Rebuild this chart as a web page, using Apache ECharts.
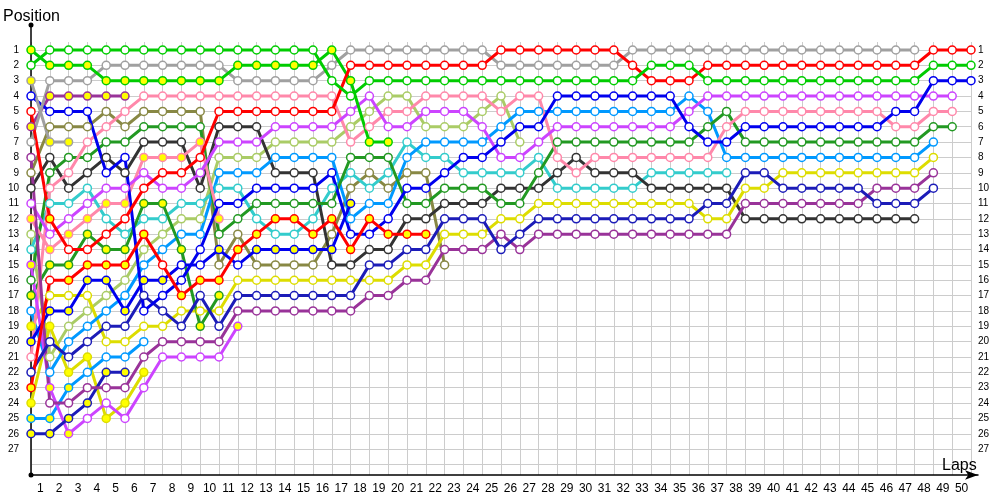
<!DOCTYPE html>
<html><head><meta charset="utf-8">
<script src="https://cdn.jsdelivr.net/npm/echarts@6/dist/echarts.min.js"></script>
<style>html,body{margin:0;padding:0;background:#fff}#c{width:1000px;height:500px}</style>
</head><body><div id="c"></div>
<script>
// Lap labels
const lapLabels = Array.from({length:50},(_,i)=>String(i+1));
// Positions per driver, index = lap (0 = start)
const G1  = [2,1,1,1,1,1,1,1,1,1,1,1,1,1,1,1,3,4,3,3,3,3,3,3,3,3,3,3,3,3,3,3,3,2,2,2,3,3,3,3,3,3,3,3,3,3,3,3,2,2,2];
const G2  = [1,2,2,2,3,3,3,3,3,3,3,2,2,2,2,2,1,3,7,7];
const GR1 = [7,3,3,3,2,2,2,2,2,2,2,3,3,3,3,3,2,1,1,1,1,1,1,1,1,2,2,2,2,2,2,2,1,1,1,1,1,1,1,1,1,1,1,1,1,1,1,1];
const GR2 = [3,7,7];
const P2  = [6,4,4,4,4,4];
const R1  = [5,12,14,14,13,12,10,9,9,8,5,5,5,5,5,5,5,2,2,2,2,2,2,2,2,1,1,1,1,1,1,1,2,3,3,3,2,2,2,2,2,2,2,2,2,2,2,2,1,1,1];
const R2  = [23,16,16,15,15,15,13,15,17,16,16,14,13,12,12,13,12,14,12,13,13,13];
const B1  = [4,5,5,5,9,8,18,17,16,14,11,11,10,10,10,10,9,13,13,12,10,10,9,8,8,7,6,6,4,4,4,4,4,4,4,6,7,7,6,6,6,6,6,6,6,6,5,5,3,3,3];
const B2  = [20,18,18,16,16,18,16,16,15,15,14,15,14,14,14,14,14,11];
const DB1 = [22,20,21,20,19,19,17,18,19,17,19,17,17,17,17,17,17,17,15,15,14,14,12,12,12,14,13,12,12,12,12,12,12,12,12,12,11,11,9,9,10,10,10,10,10,11,11,11,10];
const DB2 = [26,26,25,24,22,22];
const PU1 = [8,24,24,23,23,23,21,20,20,20,20,18,18,18,18,18,18,18,17,17,16,16,14,14,14,13,14,13,13,13,13,13,13,13,13,13,13,13,11,11,11,11,11,11,11,10,10,10,9];
const M1  = [11,13,12,11,10,10,9,10,10,9,7,7,7,6,6,6,6,5,4,6,6,5,5,5,6,8,8,7,6,6,6,6,6,6,6,5,4,4,4,4,4,4,4,4,4,4,4,4,4,4];
const M2  = [15,23,26,25,24,25,23,21,21,21,21,19];
const PK1 = [21,10,9,7,6,5,4,4,4,4,4,4,4,4,4,4,4,7,6,5,5,4,4,4,4,5,4,4,8,9,8,8,8,8,8,8,8,6,5,5,5,5,5,5,5,5,6,6,5,5];
const PK2 = [12,14,13,12,11,11,8,8,8,7,12];
const DG1 = [16,9,8,8,7,7,6,6,6,6,13,12,11,11,11,11,11,8,8,8,11,11,10,10,10,11,11,9,7,7,7,7,7,7,7,7,6,5,7,7,7,7,7,7,7,7,7,7,6,6];
const DG2 = [17,15,15,13,14,14,11,11,14,19,17];
const LB1 = [18,22,20,19,18,17,15,14,13,13,9,9,9,8,8,8,8,12,11,11,8,7,7,7,7,6,5,5,5,5,5,5,5,5,5,4,5,8,8,8,8,8,8,8,8,8,8,8,7];
const LB2 = [25,25,23,22,21,21,20];
const Y1  = [19,17,17,17,20,20,19,19,18,18,18,16,16,16,16,16,16,16,16,16,15,15,13,13,13,12,12,11,11,11,11,11,11,11,11,11,12,12,10,10,9,9,9,9,9,9,9,9,8];
const Y2  = [24,19,22,21,25,24,22];
const LG  = [13,21,19,18,17,16,14,13,12,12,8,8,8,7,7,7,7,6,5,4,4,6,6,6,5,4,7];
const CY  = [14,11,11,10,12,13,12,12,11,11,10,10,12,13,13,12,10,9,10,9,7,8,8,9,9,9,9,8,10,10,10,10,10,9,9,9,9,9];
const BK  = [10,8,10,9,8,9,7,7,7,10,6,6,6,9,9,9,15,15,14,14,12,12,11,11,11,10,10,10,9,8,9,9,9,10,10,10,10,10,12,12,12,12,12,12,12,12,12,12];
const OL  = [9,6,6,6,5,6,5,5,5,5,15,13,15,15,15,15,13,10,9,10,9,9,15];
// Laps drawn with a yellow marker
const range = (a,b)=>Array.from({length:b-a+1},(_,i)=>a+i);
const pitG2 = range(0,19), pitGR2 = [0,1,2], pitP2 = range(0,5), pitR1 = [1];
const pitR2 = [0,2,3,4,5,6,8,9,10,11,12,13,14,15,16,17,18,19,20,21];
const pitB2 = [0,1,2,3,4,5,6,7,10,12,13,14,15,16,17];
const pitDB2 = range(0,5), pitM2 = [0,1,2,11], pitPK2 = range(0,10), pitDG2 = range(0,10);
const pitLB2 = [0,1,2], pitY1 = [0], pitY2 = range(0,6);

const drivers = [
  [OL,'#888844',[]],[LG,'#aacc66',[]],[CY,'#33cccc',[]],[BK,'#333333',[]],
  [Y2,'#dddd00',pitY2],[Y1,'#dddd00',pitY1],[LB2,'#0099ff',pitLB2],[LB1,'#0099ff',[]],
  [DG2,'#229922',pitDG2],[DG1,'#229922',[]],[PK2,'#ff88aa',pitPK2],[PK1,'#ff88aa',[]],
  [M2,'#cc44ff',pitM2],[M1,'#cc44ff',[]],[DB2,'#1c1cb8',pitDB2],[PU1,'#993399',[]],[DB1,'#1c1cb8',[]],
  [P2,'#993399',pitP2],[B2,'#0000ee',pitB2],[B1,'#0000ee',[]],[R2,'#ff0000',pitR2],
  [GR2,'#a0a0a0',pitGR2],[GR1,'#a0a0a0',[]],[G2,'#00cc00',pitG2],[R1,'#ff0000',pitR1],[G1,'#00cc00',[]]
];

const series = drivers.map(([arr,col,pits])=>({
  type:'line', xAxisIndex:0, yAxisIndex:0, animation:false,
  symbol:'circle', symbolSize:8, showAllSymbol:true,
  lineStyle:{color:col,width:3}, itemStyle:{color:'#fff',borderColor:col,borderWidth:1.5},
  emphasis:{disabled:true},
  data: arr.map((p,i)=> pits.includes(i) ? {value:[i,p],itemStyle:{color:'#ffff00',borderColor:col,borderWidth:1.5}} : [i,p])
}));

const posLabel = v => (v>=1 && v<=27) ? String(v) : '';
const chart = echarts.init(document.getElementById('c'),null,{renderer:'canvas'});
chart.setOption({
  animation:false,
  textStyle:{fontFamily:'Liberation Sans'},
  title:[
    {text:'Position',left:-2,top:4,textStyle:{fontSize:16,fontWeight:'normal',color:'#000',fontFamily:'Liberation Sans'}},
    {text:'Laps',left:937,top:453,textStyle:{fontSize:16,fontWeight:'normal',color:'#000',fontFamily:'Liberation Sans'}}
  ],
  grid:[
    {left:31,right:29,top:34.65,height:429.8},
    {left:31,right:29,top:42,bottom:25},
    {left:31,right:22,top:25,bottom:25}
  ],
  xAxis:[
    {type:'value',gridIndex:0,min:0,max:50,interval:1,show:false},
    {type:'value',gridIndex:1,position:'bottom',min:0,max:50,interval:1,axisLine:{show:false},axisTick:{show:false},axisLabel:{show:false},
     splitLine:{show:true,lineStyle:{color:'#cccccc',width:1}}},
    {type:'category',gridIndex:1,position:'bottom',offset:0,data:lapLabels,boundaryGap:true,axisLine:{show:false},axisTick:{show:false},
     axisLabel:{interval:0,margin:8,fontSize:12,color:'#000',fontFamily:'Liberation Sans'},splitLine:{show:false}},
    {type:'value',gridIndex:2,position:'bottom',min:0,max:1,axisLine:{show:true,symbol:['none','arrow'],symbolSize:[7,13],lineStyle:{color:'#000',width:1.5}},
     axisTick:{show:false},axisLabel:{show:false},splitLine:{show:false}}
  ],
  yAxis:[
    {type:'value',gridIndex:0,inverse:true,min:0,max:28,interval:1,position:'left',
     axisLine:{show:false},axisTick:{show:false},
     axisLabel:{formatter:posLabel,margin:12,fontSize:10,color:'#000',fontFamily:'Liberation Sans'},
     splitLine:{show:true,showMinLine:false,lineStyle:{color:'#cccccc',width:1}}},
    {type:'value',gridIndex:0,inverse:true,min:0,max:28,interval:1,position:'right',
     axisLine:{show:false},axisTick:{show:false},
     axisLabel:{formatter:posLabel,margin:7,fontSize:10,color:'#000',fontFamily:'Liberation Sans'},splitLine:{show:false}},
    {type:'value',gridIndex:1,show:false},
    {type:'value',gridIndex:2,min:0,max:1,axisLine:{show:true,symbol:['circle','circle'],symbolSize:[5,5],lineStyle:{color:'#000',width:1.5}},
     axisTick:{show:false},axisLabel:{show:false},splitLine:{show:false}}
  ],
  series: series
});
</script></body></html>
